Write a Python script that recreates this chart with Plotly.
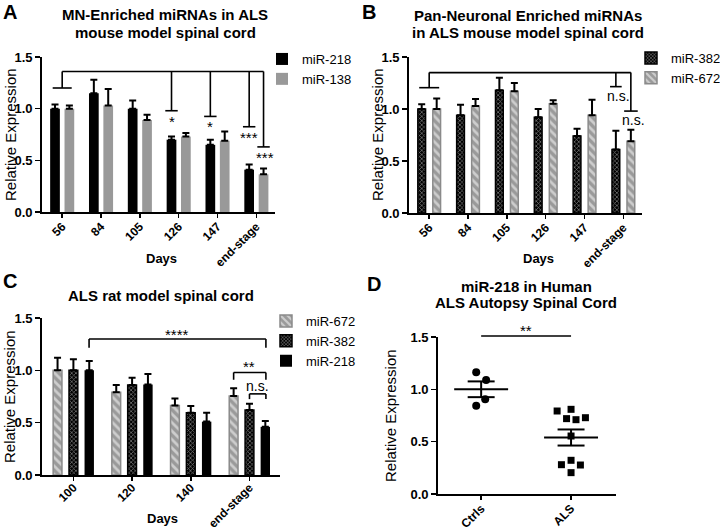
import plotly.graph_objects as go
import numpy as np

# ---------------- DATA ----------------
days_a = ["56", "84", "105", "126", "147", "end-stage"]
a_mir218 = [1.00, 1.15, 1.00, 0.70, 0.65, 0.41]
a_mir218_err = [0.04, 0.13, 0.08, 0.03, 0.05, 0.05]
a_mir138 = [1.00, 1.03, 0.89, 0.73, 0.69, 0.365]
a_mir138_err = [0.03, 0.16, 0.05, 0.035, 0.09, 0.055]

days_b = ["56", "84", "105", "126", "147", "end-stage"]
b_mir382 = [1.00, 0.94, 1.18, 0.92, 0.74, 0.61]
b_mir382_err = [0.045, 0.10, 0.12, 0.08, 0.07, 0.18]
b_mir672 = [1.00, 1.03, 1.17, 1.05, 0.94, 0.69]
b_mir672_err = [0.10, 0.065, 0.08, 0.035, 0.15, 0.11]

days_c = ["100", "120", "140", "end-stage"]
c_mir672 = [1.00, 0.79, 0.665, 0.755]
c_mir672_err = [0.12, 0.07, 0.065, 0.075]
c_mir382 = [1.00, 0.86, 0.595, 0.62]
c_mir382_err = [0.105, 0.07, 0.065, 0.06]
c_mir218 = [1.00, 0.865, 0.51, 0.46]
c_mir218_err = [0.09, 0.10, 0.085, 0.055]

d_groups = ["Ctrls", "ALS"]
d_ctrls = [1.163, 1.09, 0.905, 0.844]
d_ctrls_jit = [-0.055, 0.055, 0.045, -0.055]
d_als = [0.793, 0.809, 0.720, 0.710, 0.729, 0.554, 0.280, 0.322, 0.277, 0.204]
d_als_jit = [-0.155, 0.0, -0.05, 0.055, 0.16, 0.0, -0.107, 0.0, 0.104, 0.0]

yticks = [0, 0.5, 1.0, 1.5]

# ---------------- STYLE ----------------
FONT = "Liberation Sans, Arial, sans-serif"
BLACK = "#000000"
GRAY = "#999999"
STRIPE_BG = "#9a9a9a"

W, H = 720, 530

def px_x(p):
    return p / W

def px_y(p):
    return 1 - p / H

fig = go.Figure()

def err(arr):
    return dict(type="data", array=arr, arrayminus=[0] * len(arr), symmetric=False,
                color=BLACK, thickness=2, width=3.5)

pat672 = dict(shape="\\", bgcolor=STRIPE_BG, fgcolor="#ffffff", size=6, solidity=0.45)
pat382 = dict(shape="x", bgcolor="#000000", fgcolor="#ffffff", size=3, solidity=0.4)

# ---- Panel A ----
xa = list(range(len(days_a)))
fig.add_trace(go.Bar(x=xa, y=a_mir218, name="miR-218", width=0.25, offset=-0.31,
                     marker=dict(color=BLACK, line=dict(width=0)), error_y=err(a_mir218_err),
                     xaxis="x", yaxis="y", legend="legend"))
fig.add_trace(go.Bar(x=xa, y=a_mir138, name="miR-138", width=0.25, offset=0.06,
                     marker=dict(color=GRAY, line=dict(width=0)), error_y=err(a_mir138_err),
                     xaxis="x", yaxis="y", legend="legend"))

# ---- Panel B ----
xb = list(range(len(days_b)))
fig.add_trace(go.Bar(x=xb, y=b_mir382, name="miR-382", width=0.2, offset=-0.293,
                     marker=dict(color=BLACK, pattern=pat382, line=dict(color=BLACK, width=1.5)),
                     error_y=err(b_mir382_err), xaxis="x2", yaxis="y2", legend="legend2"))
fig.add_trace(go.Bar(x=xb, y=b_mir672, name="miR-672", width=0.2, offset=0.093,
                     marker=dict(color=STRIPE_BG, pattern=pat672, line=dict(color="#8a8a8a", width=1.5)),
                     error_y=err(b_mir672_err), xaxis="x2", yaxis="y2", legend="legend2"))

# ---- Panel C ----
xc = list(range(len(days_c)))
fig.add_trace(go.Bar(x=xc, y=c_mir672, name="miR-672", width=0.15, offset=-0.345,
                     marker=dict(color=STRIPE_BG, pattern=pat672, line=dict(color="#8a8a8a", width=1.5)),
                     error_y=err(c_mir672_err), xaxis="x3", yaxis="y3", legend="legend3"))
fig.add_trace(go.Bar(x=xc, y=c_mir382, name="miR-382", width=0.15, offset=-0.075,
                     marker=dict(color=BLACK, pattern=pat382, line=dict(color=BLACK, width=1.5)),
                     error_y=err(c_mir382_err), xaxis="x3", yaxis="y3", legend="legend3"))
fig.add_trace(go.Bar(x=xc, y=c_mir218, name="miR-218", width=0.16, offset=0.19,
                     marker=dict(color=BLACK, line=dict(width=0)),
                     error_y=err(c_mir218_err), xaxis="x3", yaxis="y3", legend="legend3"))

# ---- Panel D ----
ctrl_x = [0 + j for j in d_ctrls_jit]
als_x = [1 + j for j in d_als_jit]
fig.add_trace(go.Scatter(x=ctrl_x, y=d_ctrls, mode="markers", showlegend=False,
                         marker=dict(symbol="circle", size=8, color=BLACK),
                         xaxis="x4", yaxis="y4"))
fig.add_trace(go.Scatter(x=als_x, y=d_als, mode="markers", showlegend=False,
                         marker=dict(symbol="square", size=7, color=BLACK),
                         xaxis="x4", yaxis="y4"))
for gi, vals in enumerate([d_ctrls, d_als]):
    m = float(np.mean(vals))
    s = float(np.std(vals, ddof=1) / np.sqrt(len(vals)))
    fig.add_trace(go.Scatter(x=[gi - 0.3, gi + 0.3], y=[m, m], mode="lines", showlegend=False,
                             line=dict(color=BLACK, width=2), xaxis="x4", yaxis="y4"))
    for yy in (m - s, m + s):
        fig.add_trace(go.Scatter(x=[gi - 0.15, gi + 0.15], y=[yy, yy], mode="lines", showlegend=False,
                                 line=dict(color=BLACK, width=2), xaxis="x4", yaxis="y4"))
    fig.add_trace(go.Scatter(x=[gi, gi], y=[m - s, m + s], mode="lines", showlegend=False,
                             line=dict(color=BLACK, width=2), xaxis="x4", yaxis="y4"))

# ---------------- AXES ----------------
def yax(domain, anchor):
    return dict(domain=domain, anchor=anchor, range=[0, 1.5], tickvals=yticks, tickformat=".1f",
                showline=True, linecolor=BLACK, linewidth=1.8, ticks="outside", ticklen=5,
                tickwidth=1.5, tickcolor=BLACK, showgrid=False, zeroline=False, automargin=False,
                tickfont=dict(family=FONT, size=13, color=BLACK, weight="bold"))

def xax(domain, anchor, rng, labels, standoff=-3):
    return dict(domain=domain, anchor=anchor, range=rng, tickvals=list(range(len(labels))),
                ticktext=labels, tickangle=-45, showline=True, linecolor=BLACK, linewidth=1.8,
                ticks="outside", ticklen=4, tickwidth=1.5, tickcolor=BLACK, showgrid=False,
                zeroline=False, automargin=False, ticklabelstandoff=standoff,
                tickfont=dict(family=FONT, size=12, color=BLACK, weight="bold"))

fig.update_layout(
    xaxis=xax([px_x(42), px_x(275)], "y", [-0.52, 5.48], days_a),
    yaxis=yax([px_y(212), px_y(57)], "x"),
    xaxis2=xax([px_x(409), px_x(642)], "y2", [-0.52, 5.48], days_b),
    yaxis2=yax([px_y(213), px_y(57)], "x2"),
    xaxis3=xax([px_x(42), px_x(280)], "y3", [-0.535, 3.52], days_c, standoff=-5),
    yaxis3=yax([px_y(475), px_y(318)], "x3"),
    xaxis4=xax([px_x(438), px_x(616)], "y4", [-0.48, 1.5], d_groups),
    yaxis4=yax([px_y(494), px_y(337)], "x4"),
)

# ---------------- LEGENDS ----------------
def leg(x, y):
    return dict(x=px_x(x), y=px_y(y), xanchor="left", yanchor="top", bgcolor="rgba(0,0,0,0)",
                font=dict(family=FONT, size=13, color=BLACK), tracegroupgap=0, itemwidth=30)

fig.update_layout(legend=leg(262, 44), legend2=leg(631, 43), legend3=leg(266, 306))

# ---------------- SHAPES / ANNOTATIONS ----------------
shapes = []
annots = []
LW = 1.6

def line(x0, y0, x1, y1, xr, yr):
    shapes.append(dict(type="line", x0=x0, y0=y0, x1=x1, y1=y1, xref=xr, yref=yr,
                       line=dict(color=BLACK, width=LW)))

def text(x, y, t, xr, yr, size=14, bold=False, xanchor="center", yanchor="middle", angle=0):
    annots.append(dict(x=x, y=y, text=("<b>%s</b>" % t) if bold else t, xref=xr, yref=yr,
                       showarrow=False, xanchor=xanchor, yanchor=yanchor, textangle=angle,
                       font=dict(family=FONT, size=size, color=BLACK)))

# Panel A brackets
top = 1.36
line(0, top, 5 + 0.185, top, "x", "y")
line(0, top, 0, 1.20, "x", "y"); line(-0.245, 1.20, 0.245, 1.20, "x", "y")
for cx, yb, lab, ys in [(3 - 0.185, 0.98, "*", 0.88), (4 - 0.185, 0.925, "*", 0.825),
                        (5 - 0.185, 0.825, "***", 0.72), (5 + 0.185, 0.63, "***", 0.53)]:
    line(cx, top, cx, yb, "x", "y")
    line(cx - 0.16, yb, cx + 0.16, yb, "x", "y")
    text(cx + (0.03 if lab == "***" and cx > 5 else 0), ys, lab, "x", "y", size=15)

# Panel B brackets
topb = 1.35
line(0, topb, 5 + 0.193, topb, "x2", "y2")
line(0, topb, 0, 1.205, "x2", "y2"); line(-0.257, 1.205, 0.257, 1.205, "x2", "y2")
line(5 - 0.193, topb, 5 - 0.193, 1.215, "x2", "y2"); line(5 - 0.343, 1.215, 5 - 0.043, 1.215, "x2", "y2")
line(5 + 0.193, topb, 5 + 0.193, 0.98, "x2", "y2"); line(5 + 0.02, 0.98, 5 + 0.37, 0.98, "x2", "y2")
text(5 - 0.116, 1.125, "n.s.", "x2", "y2", size=14)
text(5 + 0.25, 0.895, "n.s.", "x2", "y2", size=14)

# Panel C brackets
l0, r0 = 0 + 0.267, 3 + 0.28
line(l0, 1.30, r0, 1.30, "x3", "y3")
line(l0, 1.30, l0, 1.215, "x3", "y3"); line(r0, 1.30, r0, 1.215, "x3", "y3")
text((l0 + r0) / 2, 1.345, "****", "x3", "y3", size=15)
line(3 - 0.27, 0.98, 3 + 0.28, 0.98, "x3", "y3")
line(3 - 0.27, 0.98, 3 - 0.27, 0.91, "x3", "y3"); line(3 + 0.28, 0.98, 3 + 0.28, 0.91, "x3", "y3")
text(3, 1.04, "**", "x3", "y3", size=15)
line(3, 0.775, 3 + 0.28, 0.775, "x3", "y3")
line(3, 0.775, 3, 0.725, "x3", "y3"); line(3 + 0.28, 0.775, 3 + 0.28, 0.725, "x3", "y3")
text(3.14, 0.85, "n.s.", "x3", "y3", size=14)

# Panel D significance
line(0, 1.51 / 1.5, 1, 1.51 / 1.5, "x4", "y4 domain")
text(0.5, 1.56 / 1.5, "**", "x4", "y4 domain", size=15)

# Titles
text(px_x(165), px_y(15), "MN-Enriched miRNAs in ALS", "paper", "paper", size=15, bold=True)
text(px_x(165), px_y(33), "mouse model spinal cord", "paper", "paper", size=15, bold=True)
text(px_x(528), px_y(16), "Pan-Neuronal Enriched miRNAs", "paper", "paper", size=15, bold=True)
text(px_x(528), px_y(33), "in ALS mouse model spinal cord", "paper", "paper", size=15, bold=True)
text(px_x(161), px_y(295), "ALS rat model spinal cord", "paper", "paper", size=15, bold=True)
text(px_x(526), px_y(286), "miR-218 in Human", "paper", "paper", size=15, bold=True)
text(px_x(526), px_y(302), "ALS Autopsy Spinal Cord", "paper", "paper", size=15, bold=True)

# Panel letters
text(px_x(10), px_y(12), "A", "paper", "paper", size=20, bold=True)
text(px_x(369), px_y(12), "B", "paper", "paper", size=20, bold=True)
text(px_x(10), px_y(281), "C", "paper", "paper", size=20, bold=True)
text(px_x(374), px_y(284), "D", "paper", "paper", size=20, bold=True)

# Axis titles
for xx, yy in [(10, 135), (377, 135), (10, 397), (390, 416)]:
    text(px_x(xx), px_y(yy), "Relative Expression", "paper", "paper", size=15, angle=-90)
text(px_x(161), px_y(258), "Days", "paper", "paper", size=13, bold=True)
text(px_x(538), px_y(258), "Days", "paper", "paper", size=13, bold=True)
text(px_x(162), px_y(518), "Days", "paper", "paper", size=13, bold=True)

fig.update_layout(shapes=shapes, annotations=annots, barmode="overlay",
                  width=W, height=H, margin=dict(l=0, r=0, t=0, b=0, autoexpand=False),
                  plot_bgcolor="white", paper_bgcolor="white", hovermode=False,
                  font=dict(family=FONT, color=BLACK))

fig.write_html("out.html", config={"displayModeBar": False, "staticPlot": True},
               post_script="document.body.style.margin='0';document.body.style.overflow='hidden';")
